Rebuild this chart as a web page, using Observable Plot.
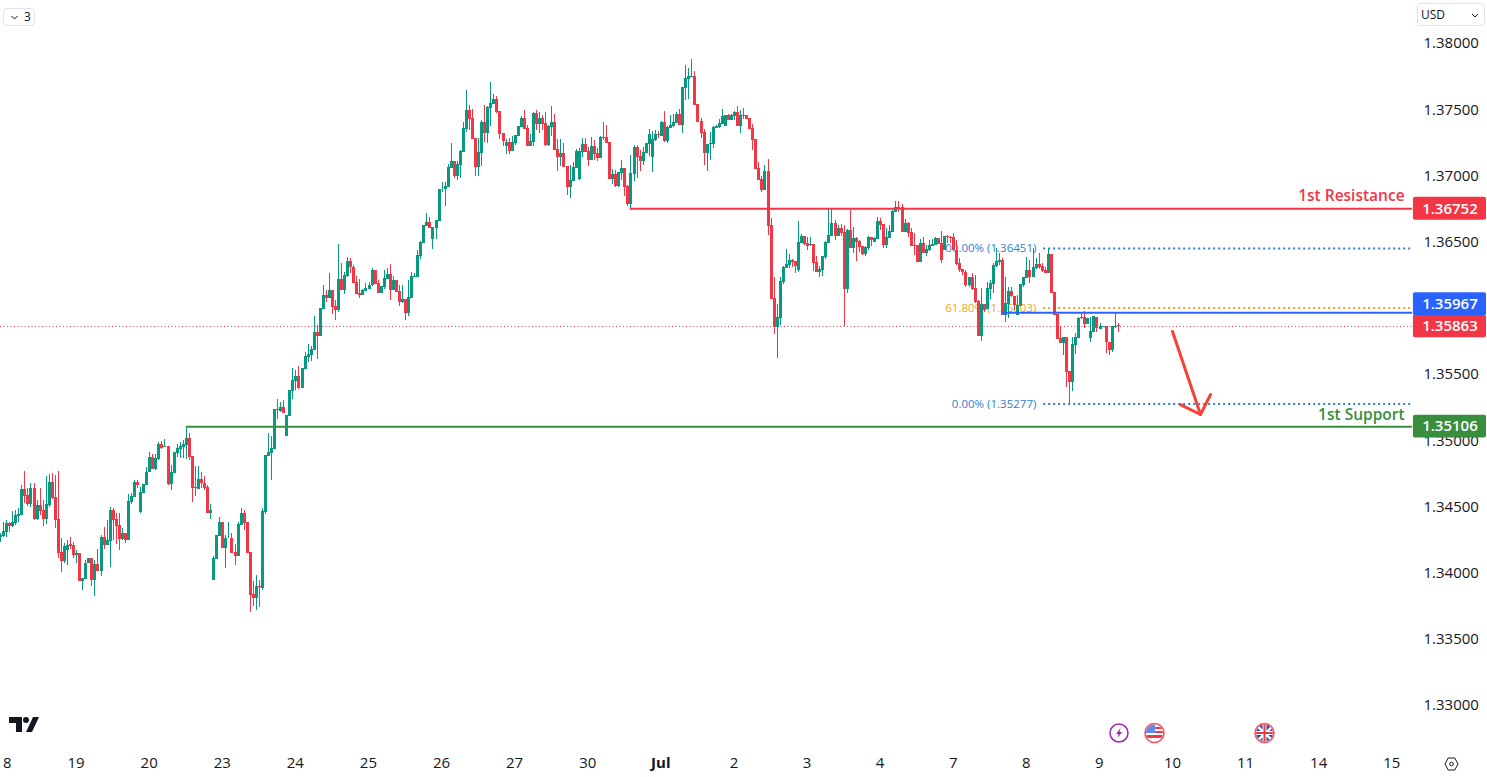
<!DOCTYPE html>
<html><head><meta charset="utf-8">
<script src="https://cdn.jsdelivr.net/npm/d3@7"></script>
<script src="https://cdn.jsdelivr.net/npm/@observablehq/plot@0.6"></script>
<style>
html,body{margin:0;padding:0;background:#fff;overflow:hidden}
#wrap{position:relative;width:1487px;height:777px;font-family:"Open Sans",sans-serif;color:#131722}
#wrap svg{display:block}
.btn{position:absolute;border:1px solid #e0e3eb;border-radius:4px;box-sizing:border-box;background:#fff;font-size:12px;line-height:1;display:flex;align-items:center}
.ov{position:absolute;left:0;top:0;pointer-events:none}
</style></head><body>
<div id="wrap"></div>
<script>
// Hourly candles: G rising, R falling. Prices are stored in 0.00001 units above 1.30000.
const dirs = "GGGRGGGGRR"+"GRGRRGGRRR"+"RGGRRGRGGG"+"RGRGRGGRRR"+"GRGGGRGGGG"+"RGGRGRGGGG"+"GGRRRGRRRG"+"GGGRGGRRGG"+"RRRRGRGGGG"+"GRGRGGGGRG"
+"GGGGRGGRGR"+"RGRGGRRRRG"+"GGGRRGGGRG"+"RRGRGGGGGG"+"GRGGGGGGGR"+"GGGGRRRGGR"+"GGGRRRGRGG"+"GGRRGGRGRR"+"GGRRGRRGGG"+"GGRRGRRGRR"
+"RGRGGRRGGR"+"RGGGGGRGRG"+"GGGRGGGGRR"+"RRGGGGGGGR"+"GGRGRRRRRR"+"RGRRRGGGGG"+"RRGGRRGRRG"+"GGGGRGRRGR"+"GRRRGGRGGR"+"RGGGGRRGRR"
+"RRGRGGGGRR"+"GRRRRRRRGR"+"RRGRGGGGGR"+"GGRRGGGGRG"+"GRRRGRRRRG"+"RRGGGGRGGG"+"RGGRRGGR";
const bodyTop = [
4284,4314,4372,4372,4382,4433,4440,4632,4632,4586,
4639,4639,4511,4511,4471,4518,4685,4685,4571,4405,
4156,4201,4209,4216,4209,4148,4148,3959,4073,4110,
4110,4065,4065,4269,4269,4246,4473,4473,4405,4360,
4299,4299,4541,4579,4685,4685,4609,4669,4760,4873,
4873,4866,4972,4972,4957,4957,4760,4911,4941,4957,
4972,5017,5017,4881,4647,4707,4707,4677,4647,4473,
4110,4284,4382,4382,4262,4264,4262,4156,4367,4450,
4450,4382,4156,3839,3899,3899,4465,4889,4911,4941,
5236,5236,5251,5251,5191,5379,5455,5485,5485,5546,
5636,5651,5689,5817,5817,5999,6097,6097,6135,6135,
6014,6218,6218,6248,6354,6354,6308,6195,6112,6135,
6150,6173,6286,6286,6188,6165,6225,6256,6256,6210,
6210,6127,6067,6067,6082,6240,6240,6399,6497,6625,
6648,6648,6610,6663,6897,6897,6920,7063,7108,7108,
7086,7184,7358,7494,7494,7433,7282,7176,7403,7403,
7516,7547,7577,7577,7486,7320,7252,7252,7252,7305,
7373,7433,7433,7358,7260,7471,7471,7433,7433,7396,
7373,7403,7403,7199,7169,7169,7071,6965,7063,7184,
7184,7237,7237,7184,7222,7222,7169,7290,7290,7290,
7252,7010,7010,7025,7056,7056,6920,7018,7214,7214,
7146,7176,7244,7312,7275,7312,7310,7403,7403,7365,
7380,7403,7464,7464,7667,7735,7751,7751,7751,7539,
7411,7328,7237,7244,7365,7373,7396,7448,7456,7456,
7456,7479,7479,7456,7456,7456,7433,7358,7275,7056,
6973,7033,7033,6626,6074,5931,6203,6308,6331,6361,
6361,6354,6497,6543,6543,6490,6482,6482,6346,6293,
6391,6497,6550,6641,6641,6603,6603,6573,6588,6588,
6527,6527,6505,6467,6459,6535,6535,6527,6656,6656,
6633,6535,6580,6731,6762,6762,6762,6641,6641,6573,
6475,6475,6490,6490,6444,6475,6482,6527,6527,6490,
6543,6543,6538,6538,6437,6336,6291,6273,6230,6230,
6147,6052,6029,6029,6147,6185,6324,6354,6361,6361,
6034,6127,6127,6089,6021,6180,6230,6286,6286,6306,
6329,6329,6316,6286,6407,6407,6122,5953,5770,5777,
5777,5523,5727,5777,5921,5928,5928,5923,5825,5938,
5928,5863,5863,5863,5742,5863,5863,5868];
const bodyBottom = [
4267,4279,4309,4352,4352,4372,4430,4435,4581,4518,
4518,4405,4405,4468,4405,4405,4508,4564,4398,4148,
4088,4088,4171,4204,4133,4133,3937,3937,3952,4070,
3944,3944,4012,4012,4209,4209,4239,4398,4352,4254,
4254,4246,4246,4533,4574,4662,4458,4601,4662,4760,
4783,4783,4856,4941,4951,4669,4669,4753,4906,4934,
4951,4964,4873,4639,4639,4632,4675,4639,4450,4450,
3944,4103,4277,4186,4186,4259,4148,4126,4126,4360,
4375,4148,3831,3808,3808,3894,3884,4458,4881,4904,
4934,5228,5221,5206,5032,5183,5372,5447,5394,5394,
5538,5629,5644,5681,5787,5787,5991,6074,6074,6006,
5984,5984,6135,6135,6241,6308,6188,6105,6097,6097,
6127,6142,6173,6180,6112,6112,6157,6218,6135,6135,
6120,6044,6044,5961,5961,6074,6235,6233,6392,6490,
6618,6603,6520,6603,6656,6894,6894,6912,7056,6995,
6995,7078,7176,7350,7426,7275,7063,7063,7169,7320,
7320,7509,7539,7479,7312,7260,7222,7184,7184,7245,
7297,7365,7350,7222,7222,7252,7388,7388,7388,7229,
7229,7365,7192,7139,7139,7063,6912,6912,6957,7056,
6973,7176,7176,7116,7116,7161,7131,7131,7282,7245,
6973,6973,6920,6920,7018,6912,6784,6784,7010,7139,
7108,7108,7169,7237,7139,7267,7305,7297,7260,7260,
7358,7373,7396,7380,7380,7660,7728,7746,7532,7403,
7320,7169,7169,7237,7237,7358,7365,7388,7373,7418,
7418,7448,7373,7373,7451,7426,7350,7267,7048,6965,
6889,6889,6618,6067,5855,5855,5923,6195,6301,6323,
6346,6316,6286,6490,6482,6467,6475,6339,6271,6271,
6286,6384,6490,6543,6543,6543,6565,6142,6142,6452,
6452,6497,6459,6407,6407,6452,6512,6497,6520,6626,
6475,6475,6527,6573,6724,6754,6573,6573,6565,6467,
6467,6346,6346,6414,6414,6437,6469,6475,6482,6361,
6437,6533,6530,6437,6331,6286,6268,6172,6172,6140,
6047,5787,5787,5984,5991,6142,6180,6316,6349,5946,
5946,6026,6089,6021,5946,6014,6172,6223,6235,6235,
6298,6311,6281,6261,6261,6115,5946,5762,5732,5732,
5518,5442,5440,5719,5770,5921,5878,5878,5775,5820,
5845,5840,5858,5739,5682,5682,5853,5863];
const highs = [
4297,4382,4397,4385,4463,4473,4491,4662,4768,4637,
4675,4680,4549,4639,4549,4732,4745,4753,4737,4768,
4259,4226,4246,4269,4234,4171,4148,3959,4095,4110,
4110,4095,4178,4284,4345,4398,4496,4488,4450,4448,
4335,4299,4594,4599,4700,4700,4647,4669,4800,4911,
4896,4896,4987,4994,5009,4957,4813,4911,4972,4989,
5002,5108,5055,4881,4805,4805,4760,4730,4662,4518,
4126,4284,4420,4382,4284,4382,4297,4216,4382,4488,
4473,4382,4156,3937,3982,3944,4488,4889,5055,5032,
5236,5311,5289,5304,5191,5379,5546,5530,5561,5546,
5666,5727,5712,5938,5870,5999,6173,6135,6263,6135,
6059,6482,6339,6271,6384,6376,6324,6241,6218,6142,
6188,6195,6301,6286,6210,6165,6286,6301,6331,6241,
6210,6173,6173,6067,6210,6271,6263,6437,6505,6625,
6716,6686,6610,6663,6897,6950,6950,7086,7244,7108,
7108,7192,7403,7645,7532,7501,7282,7282,7418,7532,
7524,7705,7615,7600,7486,7320,7275,7282,7297,7305,
7373,7448,7494,7380,7312,7479,7494,7479,7456,7479,
7380,7524,7464,7275,7275,7244,7071,7078,7101,7199,
7207,7282,7282,7214,7290,7267,7207,7297,7403,7380,
7252,7048,7041,7025,7116,7056,6927,7154,7229,7229,
7192,7214,7244,7350,7335,7343,7335,7411,7486,7373,
7456,7464,7479,7501,7667,7834,7811,7879,7788,7539,
7433,7350,7237,7328,7373,7380,7426,7501,7456,7464,
7464,7486,7524,7494,7509,7456,7433,7388,7275,7101,
6995,7078,7124,6678,6233,6029,6233,6316,6444,6407,
6369,6354,6656,6558,6543,6535,6535,6482,6391,6316,
6391,6505,6746,6746,6663,6626,6633,6626,6595,6739,
6610,6535,6512,6467,6467,6543,6535,6535,6686,6678,
6633,6603,6626,6739,6807,6807,6784,6671,6648,6603,
6565,6475,6520,6535,6475,6512,6520,6535,6527,6580,
6543,6550,6543,6568,6512,6374,6291,6286,6230,6261,
6248,6059,6147,6029,6198,6210,6336,6449,6412,6374,
6235,6160,6160,6089,6097,6180,6235,6387,6361,6449,
6374,6412,6336,6311,6455,6407,6122,5953,5863,5777,
5777,5523,5782,5807,5933,5971,5976,5923,5933,5938,
5928,5883,5863,5863,5742,5863,5971,5883];
const lows = [
4234,4272,4272,4307,4345,4360,4385,4435,4523,4503,
4493,4398,4398,4435,4352,4367,4498,4559,4335,4110,
4005,4070,4058,4176,4113,4070,3937,3869,3952,4070,
3899,3823,4012,3974,4178,4209,4042,4246,4216,4171,
4246,4226,4246,4518,4574,4639,4450,4601,4662,4760,
4783,4775,4851,4934,4951,4662,4624,4753,4876,4863,
4863,4856,4851,4533,4579,4632,4639,4624,4450,4405,
3944,4103,4277,4186,4035,4259,4148,4058,4126,4360,
4322,4148,3703,3748,3718,3740,3869,4443,4881,4700,
4934,5160,5213,5206,5032,5183,5311,5379,5387,5394,
5538,5591,5598,5681,5614,5787,5991,6044,6074,5953,
5908,5969,6135,6105,6233,6263,6188,6105,6074,6097,
6127,6142,6165,6180,6112,6112,6142,6218,6059,6135,
6120,6014,6037,5908,5938,6074,6235,6233,6369,6490,
6618,6603,6444,6520,6656,6874,6769,6912,7056,6980,
6965,6980,7176,7328,7343,7275,6995,6995,7071,7252,
7244,7373,7539,7471,7275,7222,7161,7161,7184,7229,
7297,7365,7350,7222,7222,7222,7343,7320,7343,7222,
7222,7297,7192,7033,7071,7063,6852,6829,6957,7056,
6965,7139,7176,7071,7116,7116,7108,7131,7267,7245,
6973,6935,6912,6912,6965,6844,6769,6738,6957,6980,
7033,7078,7169,7146,7025,7260,7282,7297,7252,7245,
7358,7365,7396,7380,7320,7569,7577,7746,7532,7403,
7282,7078,7033,7116,7207,7358,7358,7388,7373,7418,
7418,7418,7373,7320,7426,7426,7350,7192,7048,6965,
6874,6889,6550,6067,5802,5621,5870,6180,6301,6301,
6308,6263,6271,6490,6475,6437,6467,6278,6271,6233,
6240,6369,6490,6543,6512,6543,6543,5863,6112,6452,
6414,6354,6422,6399,6391,6437,6470,6497,6520,6588,
6452,6452,6527,6573,6724,6724,6573,6573,6535,6467,
6399,6346,6346,6414,6391,6429,6469,6475,6482,6339,
6437,6487,6487,6437,6324,6273,6248,6160,6155,6135,
6034,5787,5752,5971,5991,6067,6110,6311,6324,5946,
5896,5921,6084,5984,5946,6014,6160,6223,6185,6235,
6291,6291,6273,6261,6261,6115,5946,5762,5732,5644,
5405,5274,5374,5651,5770,5913,5850,5878,5744,5820,
5820,5840,5858,5656,5644,5669,5845,5820];

const dayLabels = ["18","19","20","23","24","25","26","27","30","Jul","2","3","4","7","8","9","10","11","14","15"];
const dayBars   = [0.8,24.8,48.8,72.8,96.8,120.8,144.8,168.8,192.8,216.8,240.8,264.8,288.8,312.8,336.8,360.8,384.8,408.8,432.8,456.8];
const priceTicks = [1.33,1.335,1.34,1.345,1.35,1.355,1.365,1.37,1.375,1.38];

const lastBar = 463.6;         // right edge of the pane, in bars
const tagFrom = 463.9, tagTo = 487.9, tagMid = 475.9;

const resistance = 1.36752, support = 1.35106, pivot = 1.35967, lastPrice = 1.35863;
const fibHigh = 1.36451, fib618 = 1.36003, fibLow = 1.35277;
const resistanceFrom = 206.8, supportFrom = 61, pivotFrom = 329, fibFrom = 342.5, fibLabelBar = 340.1;
const arrowShaftBars = [384.8, 394];
const arrowShaftPrices = [1.35825, 1.35198];
const arrowHeadBars = [387.4, 394, 397.3];
const arrowHeadPrices = [1.35273, 1.35198, 1.35349];

const RED="#f23645", GREEN="#089981", BLUE="#2962ff", SUP="#388e3c", ORANGE="#f2a516", FIB="#2f7fd6";
const toPrice = v => 1.3 + v/1e5;
const bars = dirs.split("").map((d,i)=>({i,color:d==="G"?GREEN:RED,top:toPrice(bodyTop[i]),bot:toPrice(bodyBottom[i]),hi:toPrice(highs[i]),lo:toPrice(lows[i])}));
const hline = (p,from,opt)=>Plot.ruleY([p],{x1:from,x2:lastBar,...opt});
const tag = (p,fill,dy)=>[
  Plot.rect([p],{x1:tagFrom,x2:tagTo,y1:d=>d,y2:d=>d,insetTop:-11.4,insetBottom:-11.4,fill,rx:2,dy}),
  Plot.text([p],{x:tagMid,y:d=>d,text:d=>d.toFixed(5),fill:"#fff",fontSize:15,fontWeight:600,dy})
];

const chart = Plot.plot({
  width:1487,height:777,marginLeft:0,marginRight:75,marginTop:0,marginBottom:24,
  style:{fontFamily:"Open Sans",fontSize:"15px",color:"#131722",background:"#fff"},
  x:{domain:[0,lastBar],range:[0,1412],axis:null},
  y:{domain:[1.33,1.38],range:[705,43],axis:null},
  color:{type:"identity"},
  marks:[
    Plot.ruleY([lastPrice],{x1:0,x2:lastBar,stroke:RED,strokeWidth:1,strokeDasharray:"1 2.5"}),
    Plot.text([fibHigh],{x:fibLabelBar,y:d=>d,text:()=>"100.00% (1.36451)",textAnchor:"end",fill:FIB,fontSize:11.5}),
    Plot.text([fib618],{x:fibLabelBar,y:d=>d,text:()=>"61.80% (1.36003)",textAnchor:"end",fill:ORANGE,fontSize:11.5}),
    Plot.text([fibLow],{x:fibLabelBar,y:d=>d,text:()=>"0.00% (1.35277)",textAnchor:"end",fill:FIB,fontSize:11.5}),
    hline(fibHigh,fibFrom,{stroke:FIB,strokeWidth:2,strokeDasharray:"2 3"}),
    hline(fib618,fibFrom,{stroke:ORANGE,strokeWidth:2,strokeDasharray:"2 3"}),
    hline(fibLow,fibFrom,{stroke:FIB,strokeWidth:2,strokeDasharray:"2 3"}),
    Plot.ruleX(bars,{x:"i",y1:"lo",y2:"hi",stroke:"color",strokeWidth:1,shapeRendering:"crispEdges"}),
    Plot.ruleX(bars,{x:"i",y1:"bot",y2:"top",stroke:"color",strokeWidth:3,shapeRendering:"crispEdges"}),
    hline(resistance,resistanceFrom,{stroke:RED,strokeWidth:2}),
    hline(support,supportFrom,{stroke:SUP,strokeWidth:2}),
    hline(pivot,pivotFrom,{stroke:BLUE,strokeWidth:2}),
    Plot.line(arrowShaftBars.map((x,i)=>[x,arrowShaftPrices[i]]),{stroke:"#f44336",strokeWidth:3}),
    Plot.line(arrowHeadBars.map((x,i)=>[x,arrowHeadPrices[i]]),{stroke:"#f44336",strokeWidth:3}),
    Plot.text([resistance],{x:461,y:d=>d,text:()=>"1st Resistance",textAnchor:"end",fill:RED,fontWeight:600,fontSize:15.5,dy:-12.5}),
    Plot.text([support],{x:461,y:d=>d,text:()=>"1st Support",textAnchor:"end",fill:SUP,fontWeight:600,fontSize:15.5,dy:-12}),
    Plot.axisY(priceTicks,{anchor:"right",tickSize:0,tickPadding:11,tickFormat:d=>d.toFixed(5),label:null,fill:"#131722"}),
    Plot.axisX(dayBars.filter((d,i)=>dayLabels[i]!=="Jul"),{anchor:"bottom",tickSize:0,tickPadding:4,label:null,tickFormat:d=>dayLabels[dayBars.indexOf(d)],fill:"#131722"}),
    Plot.axisX(dayBars.filter((d,i)=>dayLabels[i]==="Jul"),{anchor:"bottom",tickSize:0,tickPadding:4,label:null,tickFormat:()=>"Jul",fontWeight:700,fill:"#131722"}),
    ...tag(lastPrice,RED,0),
    ...tag(pivot,BLUE,-8.4),
    ...tag(resistance,RED,0),
    ...tag(support,SUP,0)
  ]
});
const wrap=document.getElementById("wrap");
wrap.appendChild(chart);

// Interface furniture around the chart
wrap.insertAdjacentHTML("beforeend",`
<div class="btn" style="left:3px;top:8px;width:32px;height:18px;padding-left:7px;gap:6px"><svg width="7" height="5" viewBox="0 0 7 5"><path d="M.5 1l3 3 3-3" fill="none" stroke="#131722"/></svg><span>3</span></div>
<div class="btn" style="left:1417px;top:3px;width:68px;height:23px;padding-left:3px;font-weight:500">USD<svg style="position:absolute;right:5px;top:9px" width="8" height="5" viewBox="0 0 8 5"><path d="M1 1l3 3 3-3" fill="none" stroke="#131722"/></svg></div>
<svg class="ov" width="1487" height="777" viewBox="0 0 1487 777">
  <g fill="#131722"><path d="M9 717h13v15h-6v-9H9z"/><circle cx="26" cy="720" r="3"/><path d="M33 717h6l-7 15h-6z"/></g>
  <g transform="translate(1119 733)"><circle r="9" fill="#fff" stroke="#9c27b0" stroke-width="1.5"/><path d="M1.5-5L-3 1h2.5L-1.5 5 3-1H.5z" fill="#9c27b0"/></g>
  <clipPath id="c1"><circle cx="1154.500" cy="733" r="8.500"/></clipPath>
  <clipPath id="c2"><circle cx="1264.500" cy="733" r="8.500"/></clipPath>
  <g clip-path="url(#c1)"><rect x="1146" y="724" width="18" height="18" fill="#fff"/><rect x="1146" y="727" width="18" height="2" fill="#f23645"/><rect x="1146" y="731" width="18" height="2" fill="#f23645"/><rect x="1146" y="735" width="18" height="3" fill="#f23645"/><rect x="1146" y="724" width="9" height="9" fill="#5b8def"/></g>
  <circle cx="1154.500" cy="733" r="9.500" fill="none" stroke="#f7525f" stroke-width="1.600"/>
  <g clip-path="url(#c2)"><rect x="1256" y="724" width="18" height="18" fill="#2a4fa8"/><path d="M1256 725l18 17M1274 725l-18 17" stroke="#fff" stroke-width="2.500"/><path d="M1264.500 724v18M1256 733h18" stroke="#fff" stroke-width="4"/><path d="M1264.500 724v18M1256 733h18" stroke="#e8394a" stroke-width="2"/></g>
  <circle cx="1264.500" cy="733" r="9.500" fill="none" stroke="#f7525f" stroke-width="1.600"/>
  <g transform="translate(1451.500 764)" fill="none" stroke="#131722"><path d="M-6.500 0L-3.300-6H3.300L6.500 0 3.300 6H-3.300z"/><circle r="1.800"/></g>
</svg>`);
</script></body></html>
